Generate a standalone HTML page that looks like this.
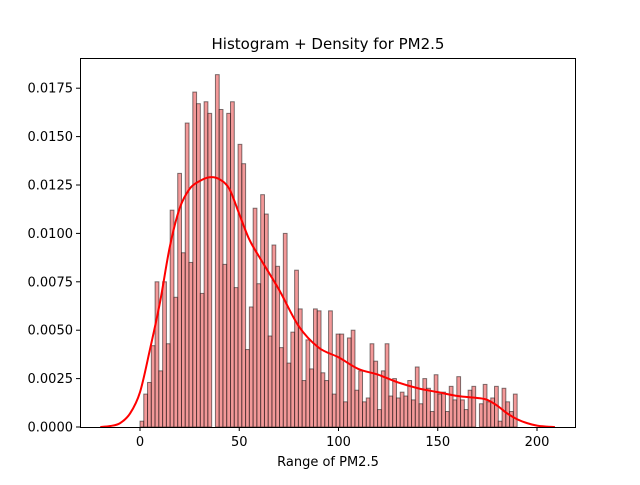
<!DOCTYPE html>
<html><head><meta charset="utf-8"><style>
body{margin:0;background:#fff}
svg text{font-family:"DejaVu Sans","Liberation Sans",sans-serif;fill:#000}
</style></head><body>
<svg id="chart" width="640" height="480" viewBox="0 0 640 480" xmlns="http://www.w3.org/2000/svg">
<rect width="640" height="480" fill="#fff"/>
<g id="bars"></g>
<path id="kde" fill="none" stroke="#ff0000" stroke-width="2"/>
<rect x="80.5" y="58.5" width="495" height="369" fill="none" stroke="#000" stroke-width="1"/>
<g id="xticks"></g>
<g id="yticks"></g>
<text x="328" y="49" font-size="15" text-anchor="middle">Histogram + Density for PM2.5</text>
<text x="328" y="466" font-size="13" text-anchor="middle">Range of PM2.5</text>
</svg>
<script>
const binStart = 0;
const binWidth = 1.9;
const binValues = [0.0003,0.0017,0.0023,0.0042,0.0075,0.0029,0.0075,0.0043,0.0112,0.0067,
0.0131,0.0090,0.0157,0.0085,0.0173,0.0167,0.0069,0.0168,0.0162,0,
0.0182,0.0164,0.0084,0.0162,0.0168,0.0072,0.0146,0.0136,0.0040,0.0062,
0.0113,0.0074,0.0120,0.0110,0.0047,0.0094,0.0083,0.0041,0.0100,0.0033,
0.0049,0.0081,0.0061,0.0024,0.0045,0.0030,0.0061,0.0060,0.0028,0.0024,
0.0060,0.0017,0.0048,0.0048,0.0013,0.0046,0.0050,0.0019,0.0029,0.0013,
0.0015,0.0043,0.0034,0.0009,0.0029,0.0043,0.0016,0.0025,0.0015,0.0018,
0.0016,0.0024,0.0014,0.0031,0.0012,0.0025,0.0020,0.0008,0.0027,0.0017,
0.0018,0.0008,0.0021,0.0014,0.0026,0.0014,0.0009,0.0019,0.0021,0,
0.0012,0.0022,0.0013,0.0015,0.0021,0.0003,0.0020,0.0013,0.0008,0.0017];
const kdeX = [-20,-15,-10,-5,0,5,10,15,20,25,30,35,40,45,50,55,60,70,80,90,100,110,120,130,140,150,160,170,175,180,185,190,195,200,205,209];
const kdeY = [0,0.00005,0.0002,0.0007,0.0018,0.0040,0.0064,0.0093,0.0113,0.0123,0.0127,0.0129,0.0128,0.0123,0.0110,0.0097,0.0088,0.0071,0.0052,0.0041,0.0036,0.0030,0.0027,0.0023,0.0020,0.0018,0.0016,0.0015,0.0014,0.0011,0.0007,0.0004,0.0002,0.00007,0.00002,0];
const xTickVals = [0,50,100,150,200];
const yTickVals = [0,0.0025,0.005,0.0075,0.01,0.0125,0.015,0.0175];
const yTickLabels = ["0.0000","0.0025","0.0050","0.0075","0.0100","0.0125","0.0150","0.0175"];

const NS="http://www.w3.org/2000/svg";
function sx(v){return 140+v*1.985;}
function sy(v){return 427-v*19360;}
const bars=document.getElementById('bars');
binValues.forEach((v,i)=>{
  if(v<=0) return;
  const x0=sx(binStart+i*binWidth), x1=sx(binStart+(i+1)*binWidth);
  const r=document.createElementNS(NS,'rect');
  
  
  r.setAttribute('x',x0);r.setAttribute('y',sy(v));
  r.setAttribute('width',x1-x0);r.setAttribute('height',427-sy(v));
  r.setAttribute('fill','rgba(240,128,128,0.8)');
  r.setAttribute('stroke','rgba(0,0,0,0.5)');r.setAttribute('stroke-width','1');
  bars.appendChild(r);
});
const pts=kdeX.map((x,i)=>[sx(x),sy(kdeY[i])]);
let d='M'+pts[0][0].toFixed(2)+','+pts[0][1].toFixed(2);
for(let i=0;i<pts.length-1;i++){
  const p0=pts[Math.max(0,i-1)],p1=pts[i],p2=pts[i+1],p3=pts[Math.min(pts.length-1,i+2)];
  const c1x=p1[0]+(p2[0]-p0[0])/6,c1y=p1[1]+(p2[1]-p0[1])/6;
  const c2x=p2[0]-(p3[0]-p1[0])/6,c2y=p2[1]-(p3[1]-p1[1])/6;
  d+='C'+c1x.toFixed(2)+','+c1y.toFixed(2)+' '+c2x.toFixed(2)+','+c2y.toFixed(2)+' '+p2[0].toFixed(2)+','+p2[1].toFixed(2);
}
document.getElementById('kde').setAttribute('d',d);
const xt=document.getElementById('xticks');
xTickVals.forEach(v=>{
  const x=sx(v);
  const l=document.createElementNS(NS,'line');
  
  
  l.setAttribute('x1',x);l.setAttribute('x2',x);l.setAttribute('y1',427);l.setAttribute('y2',431);l.setAttribute('stroke','#000');
  xt.appendChild(l);
  const t=document.createElementNS(NS,'text');
  
  
  t.setAttribute('x',x);t.setAttribute('y',446);t.setAttribute('font-size','13');t.setAttribute('text-anchor','middle');
  t.textContent=v;xt.appendChild(t);
});
const yt=document.getElementById('yticks');
yTickVals.forEach((v,i)=>{
  const y=sy(v);
  const l=document.createElementNS(NS,'line');
  
  
  l.setAttribute('x1',76);l.setAttribute('x2',80);l.setAttribute('y1',y);l.setAttribute('y2',y);l.setAttribute('stroke','#000');
  yt.appendChild(l);
  const t=document.createElementNS(NS,'text');
  
  
  t.setAttribute('x',73);t.setAttribute('y',y+4.5);t.setAttribute('font-size','13');t.setAttribute('text-anchor','end');
  t.textContent=yTickLabels[i];yt.appendChild(t);
});
</script>
</body></html>
